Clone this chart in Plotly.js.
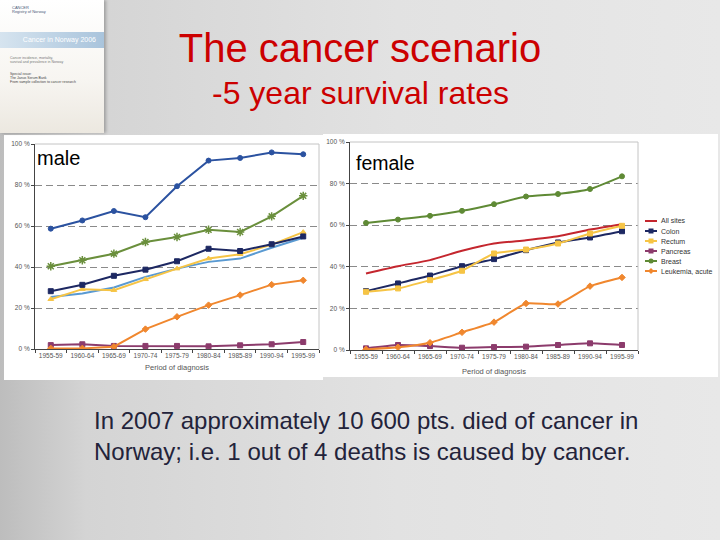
<!DOCTYPE html>
<html>
<head>
<meta charset="utf-8">
<script src="https://cdn.plot.ly/plotly-3.0.1.min.js"></script>
<style>
  html, body { margin:0; padding:0; }
  body { width:720px; height:540px; overflow:hidden; position:relative;
         background: linear-gradient(90deg, #bdbdbd 0%, #d4d4d4 12%, #e2e2e2 55%, #e8e8e8 100%);
         font-family: "Liberation Sans", Arial, sans-serif; }
  #chart { position:absolute; left:0; top:0; width:720px; height:540px; }
  #cover { position:absolute; left:0; top:0; width:104px; height:133px;
           background: linear-gradient(180deg, #ffffff 0%, #f7f5f1 60%, #ece8e0 100%);
           box-shadow: 2px 0 3px rgba(0,0,0,0.25); overflow:hidden; z-index:5; }
  #cover .logo { position:absolute; left:12px; top:6px; font-size:4px; color:#4a5a7a; line-height:4px; }
  #cover .band { position:absolute; left:0; top:32px; width:104px; height:16px;
                 background: linear-gradient(90deg, #d6e4ef, #a9c4dc); }
  #cover .band span { position:absolute; right:8px; top:4px; font-size:7px; color:#ffffff; }
  #cover .sub { position:absolute; left:10px; top:56px; font-size:3.5px; color:#777; line-height:4px; }
  #cover .sub2 { position:absolute; left:10px; top:72px; font-size:3.5px; color:#444; line-height:4px; }
</style>
</head>
<body>
<div id="chart"></div>
<div id="cover">
  <div class="logo">CANCER<br>Registry of Norway</div>
  <div class="band"><span>Cancer in Norway 2006</span></div>
  <div class="sub">Cancer incidence, mortality,<br>survival and prevalence in Norway</div>
  <div class="sub2">Special issue:<br>The Janus Serum Bank<br>From sample collection to cancer research</div>
</div>
<script>
// ---- data ----
const periods = ['1955-59','1960-64','1965-69','1970-74','1975-79','1980-84','1985-89','1990-94','1995-99'];
const yTickVals = [0, 20, 40, 60, 80, 100];
const yTickText = ['0 %', '20 %', '40 %', '60 %', '80 %', '100 %'];

// male (no legend in the original)
const maleTestis   = [58.7, 62.7, 67.3, 64.3, 79.4, 91.9, 93.2, 95.9, 95.0];
const maleProstate = [40.4, 43.3, 46.5, 52.2, 54.6, 58.2, 57.1, 64.7, 74.7];
const maleAllSites = [25.4, 27.1, 30.0, 35.2, 39.2, 42.5, 44.1, 49.4, 54.3];
const maleColon    = [28.2, 31.3, 35.7, 38.7, 42.8, 48.9, 47.8, 51.1, 54.9];
const maleRectum   = [24.3, 29.2, 28.7, 34.0, 39.2, 44.1, 46.2, 50.9, 57.0];
const malePancreas = [1.9, 2.3, 1.5, 1.5, 1.5, 1.3, 1.8, 2.3, 3.4];
const maleLeukemia = [0.3, 0.3, 1.1, 9.7, 15.7, 21.4, 26.3, 31.4, 33.5];

// female
const femaleNames    = ['All sites', 'Colon', 'Rectum', 'Pancreas', 'Breast', 'Leukemia, acute'];
const femaleAllSites = [36.8, 40.3, 43.2, 47.7, 51.2, 52.8, 54.7, 57.9, 60.5];
const femaleColon    = [28.3, 32.0, 35.8, 40.3, 43.7, 48.0, 51.7, 54.1, 57.1];
const femaleRectum   = [28.0, 29.6, 33.6, 38.1, 46.4, 48.3, 51.2, 56.0, 59.7];
const femalePancreas = [0.8, 2.4, 1.9, 1.1, 1.4, 1.6, 2.4, 3.2, 2.4];
const femaleBreast   = [61.1, 62.7, 64.5, 66.9, 70.1, 73.8, 75.0, 77.4, 83.5];
const femaleLeukemia = [0.3, 1.3, 3.5, 8.5, 13.4, 22.4, 22.1, 30.7, 34.9];

// ---- styles ----
const C = {
  testis: '#2b52a0', prostate: '#6a8f3c', allMale: '#5a9ad2', colon: '#1d2862',
  rectum: '#f6c445', pancreas: '#8c3b6c', leuk: '#f0872e', allFemale: '#c4262e', breast: '#5f8a35'
};
const femaleColors  = [C.allFemale, C.colon, C.rectum, C.pancreas, C.breast, C.leuk];
const femaleSymbols = [null, 'square', 'square', 'square', 'circle', 'diamond'];
const femaleSeries  = [femaleAllSites, femaleColon, femaleRectum, femalePancreas, femaleBreast, femaleLeukemia];

function tr(name, y, color, sym, xa, ya, opts) {
  const t = {
    type: 'scatter', mode: sym ? 'lines+markers' : 'lines', name: name,
    x: periods, y: y, xaxis: xa, yaxis: ya,
    line: { color: color, width: 2 },
    showlegend: false
  };
  if (sym) t.marker = { symbol: sym, size: 5, color: color, line: { color: color, width: 1 } };
  return Object.assign(t, opts || {});
}
const sp = c => ({ color: c, width: 2, shape: 'spline', smoothing: 0.5 });

const traces = [
  tr('Pancreas', malePancreas, C.pancreas, 'square', 'x', 'y'),
  tr('Leukemia, acute', maleLeukemia, C.leuk, 'diamond', 'x', 'y'),
  tr('All sites', maleAllSites, C.allMale, null, 'x', 'y'),
  tr('Rectum', maleRectum, C.rectum, 'triangle-up', 'x', 'y'),
  tr('Colon', maleColon, C.colon, 'square', 'x', 'y'),
  tr('Prostate', maleProstate, C.prostate, 'asterisk-open', 'x', 'y',
     { marker: { symbol: 'asterisk-open', size: 7, color: C.prostate, line: { color: C.prostate, width: 1.5 } } }),
  tr('Testis', maleTestis, C.testis, 'circle', 'x', 'y')
];
// female traces drawn from the back (leukemia/pancreas) to the front
[3, 5, 0, 1, 2, 4].forEach(i => {
  traces.push(tr(femaleNames[i], femaleSeries[i], femaleColors[i], femaleSymbols[i], 'x2', 'y2', { line: sp(femaleColors[i]) }));
});

const tickFont = { family: 'Liberation Sans, Arial, sans-serif', size: 6.5, color: '#555' };
function xAxis(domain, anchor, standoff) {
  return {
    domain: domain, anchor: anchor, type: 'category', range: [-0.5, 8.5],
    showgrid: false, showline: true, linecolor: '#444', linewidth: 1,
    ticks: 'outside', ticklen: 3, tickcolor: '#444', tickson: 'boundaries', tickangle: 0,
    tickfont: tickFont, fixedrange: true,
    title: { text: 'Period of diagnosis', font: { family: 'Liberation Sans, Arial, sans-serif', size: 7.5, color: '#555' }, standoff: standoff }
  };
}
function yAxis(domain, anchor) {
  return {
    domain: domain, anchor: anchor, range: [0, 100], tickvals: yTickVals, ticktext: yTickText,
    showgrid: true, gridcolor: '#8a8a8a', griddash: '7px,4px', gridwidth: 1,
    showline: true, linecolor: '#444', linewidth: 1, zeroline: false,
    ticks: 'outside', ticklen: 3, tickcolor: '#444', tickfont: tickFont, fixedrange: true
  };
}

const W = 720, H = 540;
const px = v => v / W, py = v => 1 - v / H;

const shapes = [
  { type: 'rect', xref: 'paper', yref: 'paper', x0: px(4), x1: px(323), y0: py(380), y1: py(135),
    fillcolor: '#ffffff', line: { width: 0 }, layer: 'below' },
  { type: 'rect', xref: 'paper', yref: 'paper', x0: px(323), x1: px(718), y0: py(377), y1: py(134),
    fillcolor: '#ffffff', line: { width: 0 }, layer: 'below' },
  { type: 'line', xref: 'x domain', yref: 'y domain', x0: 0, x1: 1, y0: 1, y1: 1, line: { color: '#c4c4c4', width: 1 } },
  { type: 'line', xref: 'x domain', yref: 'y domain', x0: 1, x1: 1, y0: 0, y1: 1, line: { color: '#c4c4c4', width: 1 } },
  { type: 'line', xref: 'x2 domain', yref: 'y2 domain', x0: 0, x1: 1, y0: 1, y1: 1, line: { color: '#c4c4c4', width: 1 } },
  { type: 'line', xref: 'x2 domain', yref: 'y2 domain', x0: 1, x1: 1, y0: 0, y1: 1, line: { color: '#c4c4c4', width: 1 } }
];
const annotations = [
  { text: '-5 year survival rates', xref: 'paper', yref: 'paper', x: 0.5, y: py(93), xanchor: 'center', yanchor: 'middle',
    showarrow: false, font: { size: 32, color: '#cc0000' } },
  { text: 'male', xref: 'paper', yref: 'paper', x: px(35), y: py(158), xanchor: 'left', yanchor: 'middle',
    showarrow: false, font: { size: 20, color: '#000' } },
  { text: 'female', xref: 'paper', yref: 'paper', x: px(354), y: py(163), xanchor: 'left', yanchor: 'middle',
    showarrow: false, font: { size: 19.5, color: '#000' } },
  { text: 'In 2007 approximately 10 600 pts. died of cancer in<br>Norway; i.e. 1 out of 4 deaths is caused by cancer.',
    xref: 'paper', yref: 'paper', x: px(92), y: py(436), xanchor: 'left', yanchor: 'middle', align: 'left',
    showarrow: false, font: { size: 24, color: '#23233a' } }
];

// compact legend for the female panel (Plotly's own legend rows are too tall at this size)
const legX0 = 645, legX1 = 657, legY0 = 221, legStep = 10;
femaleNames.forEach((name, i) => {
  const y = legY0 + i * legStep, col = femaleColors[i], sym = femaleSymbols[i], cx = (legX0 + legX1) / 2;
  shapes.push({ type: 'line', xref: 'paper', yref: 'paper', x0: px(legX0), x1: px(legX1), y0: py(y), y1: py(y),
                line: { color: col, width: 2 } });
  if (sym === 'square') {
    shapes.push({ type: 'rect', xref: 'paper', yref: 'paper', x0: px(cx - 2.5), x1: px(cx + 2.5), y0: py(y + 2.5), y1: py(y - 2.5),
                  fillcolor: col, line: { width: 0 } });
  } else if (sym === 'circle') {
    shapes.push({ type: 'circle', xref: 'paper', yref: 'paper', x0: px(cx - 2.5), x1: px(cx + 2.5), y0: py(y + 2.5), y1: py(y - 2.5),
                  fillcolor: col, line: { width: 0 } });
  } else if (sym === 'diamond') {
    shapes.push({ type: 'path', xref: 'paper', yref: 'paper',
                  path: `M ${px(cx)} ${py(y - 3)} L ${px(cx + 3)} ${py(y)} L ${px(cx)} ${py(y + 3)} L ${px(cx - 3)} ${py(y)} Z`,
                  fillcolor: col, line: { width: 0 } });
  }
  annotations.push({ text: name, xref: 'paper', yref: 'paper', x: px(legX1 + 2), y: py(y), xanchor: 'left', yanchor: 'middle',
                     showarrow: false, font: { size: 7, color: '#333' } });
});

const layout = {
  width: W, height: H,
  margin: { l: 0, r: 0, t: 0, b: 0 },
  paper_bgcolor: 'rgba(0,0,0,0)', plot_bgcolor: 'rgba(0,0,0,0)',
  font: { family: 'Liberation Sans, Arial, sans-serif' },
  title: { text: 'The cancer scenario', x: 0.5, xanchor: 'center', y: py(48), yanchor: 'middle',
           font: { size: 40, color: '#cc0000', family: 'Liberation Sans, Arial, sans-serif' } },
  xaxis: xAxis([px(35), px(319)], 'y', 6),
  yaxis: yAxis([py(349), py(144)], 'x'),
  xaxis2: xAxis([px(350), px(638)], 'y2', 9),
  yaxis2: yAxis([py(350), py(142)], 'x2'),
  showlegend: false,
  shapes: shapes,
  annotations: annotations
};

Plotly.newPlot('chart', traces, layout, { displayModeBar: false, staticPlot: true });
</script>
</body>
</html>
